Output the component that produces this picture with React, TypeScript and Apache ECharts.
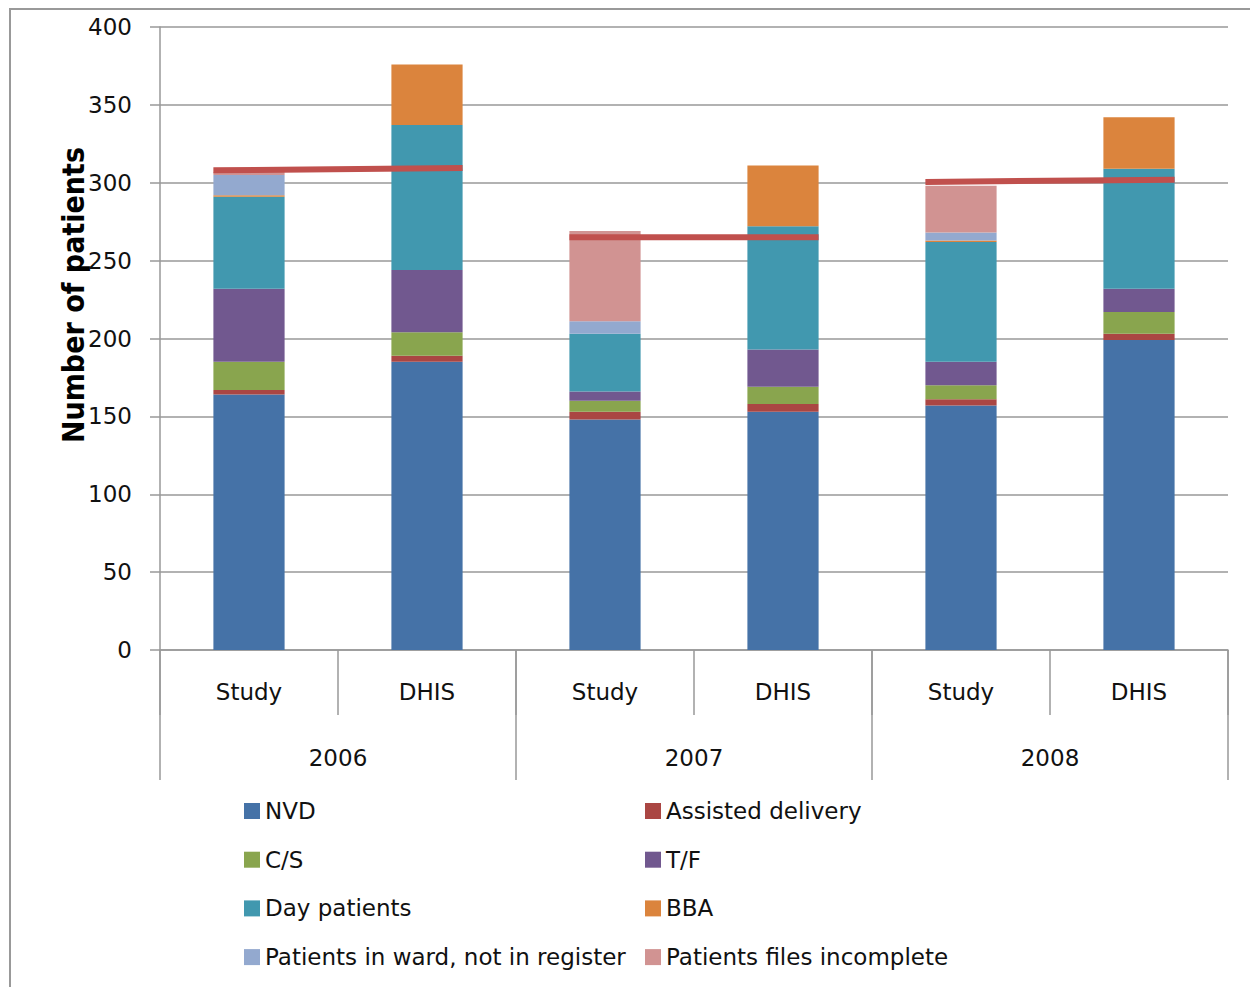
import React, { useEffect, useRef } from "react";
import * as echarts from "echarts";

const categories = ["Study", "DHIS", "Study", "DHIS", "Study", "DHIS"];
const years = ["2006", "2007", "2008"];
const yTicks = [0, 400, 50];

const nvd = [164, 185, 148, 153, 157, 199];
const assisted = [3, 4, 5, 5, 4, 4];
const cs = [18, 15, 7, 11, 9, 14];
const tf = [47, 40, 6, 24, 15, 15];
const dayPatients = [59, 93, 37, 79, 77, 77];
const bba = [1, 39, 0, 39, 1, 33];
const wardNotRegister = [13, 0, 8, 0, 5, 0];
const filesIncomplete = [2, 0, 58, 0, 30, 0];

// red reference line per year: value at Study bar's left edge and DHIS bar's right edge
const lineStart = [308, 265, 300.5];
const lineEnd = [309.5, 265, 302];

const seriesNames = [
  "NVD",
  "Assisted delivery",
  "C/S",
  "T/F",
  "Day patients",
  "BBA",
  "Patients in ward, not in register",
  "Patients files incomplete",
];
const seriesData = [nvd, assisted, cs, tf, dayPatients, bba, wardNotRegister, filesIncomplete];
const colors = ["#4572A7", "#AA4643", "#89A54E", "#71588F", "#4198AF", "#DB843D", "#93A9CF", "#D19392"];

export default function App() {
  const ref = useRef<HTMLDivElement>(null);
  useEffect(() => {
    if (!ref.current) return;
    const chart = echarts.init(ref.current, null, { renderer: "svg" });
    const font = "'DejaVu Sans', Verdana, sans-serif";
    const barFrac = 0.2;
    const bars = seriesNames.map((name, i) => ({
      name,
      type: "bar",
      stack: "total",
      barWidth: "40%",
      xAxisIndex: 0,
      itemStyle: { color: colors[i] },
      data: seriesData[i],
    }));
    const lines = years.map((y, i) => ({
      name: "line" + y,
      type: "line",
      xAxisIndex: 2,
      z: 5,
      symbol: "none",
      lineStyle: { color: "#C0504D", width: 6 },
      data: [
        [2 * i + 0.5 - barFrac, lineStart[i]],
        [2 * i + 1.5 + barFrac, lineEnd[i]],
      ],
    }));
    const legendCommon = {
      orient: "vertical",
      icon: "rect",
      padding: 0,
      itemWidth: 16,
      itemHeight: 16,
      itemGap: 22.7,
      top: 798,
      textStyle: { fontFamily: font, fontSize: 23, color: "#111", lineHeight: 26 },
      selectedMode: false,
    };
    chart.setOption({
      animation: false,
      color: colors,
      grid: { left: 160, right: 22, top: 27, bottom: 337 },
      legend: [
        { ...legendCommon, left: 244, data: [seriesNames[0], seriesNames[2], seriesNames[4], seriesNames[6]] },
        { ...legendCommon, left: 645, data: [seriesNames[1], seriesNames[3], seriesNames[5], seriesNames[7]] },
      ],
      xAxis: [
        {
          type: "category",
          data: categories,
          position: "bottom",
          offset: 0,
          axisLine: { onZero: false, lineStyle: { color: "#999", width: 1.5 } },
          axisTick: { show: true, interval: 0, length: 65, lineStyle: { color: "#999", width: 1.5 } },
          axisLabel: { interval: 0, margin: 30, fontFamily: font, fontSize: 23, color: "#111" },
        },
        {
          type: "category",
          data: years,
          position: "bottom",
          offset: 0,
          axisLine: { show: false, onZero: false },
          axisTick: { show: true, interval: 0, length: 130, lineStyle: { color: "#999", width: 1.5 } },
          axisLabel: { interval: 0, margin: 96, fontFamily: font, fontSize: 23, color: "#111" },
        },
        {
          type: "value",
          min: 0,
          max: 6,
          show: false,
        },
      ],
      yAxis: {
        type: "value",
        min: yTicks[0],
        max: yTicks[1],
        interval: yTicks[2],
        axisLine: { show: true, lineStyle: { color: "#999", width: 1.5 } },
        axisTick: { show: true, length: 10, lineStyle: { color: "#999", width: 1.5 } },
        splitLine: { lineStyle: { color: "#999", width: 1.5 } },
        axisLabel: { margin: 28, fontFamily: font, fontSize: 23, color: "#111" },
      },
      graphic: [
        {
          type: "rect",
          silent: true,
          shape: { x: 10, y: 9, width: 1400, height: 1200 },
          style: { fill: "none", stroke: "#999", lineWidth: 2 },
        },
        {
          type: "text",
          x: 73,
          y: 295,
          rotation: Math.PI / 2,
          style: {
            text: "Number of patients",
            fontFamily: "'DejaVu Sans Condensed', 'Liberation Sans Narrow', sans-serif",
            fontWeight: "bold",
            fontSize: 30,
            fill: "#000",
            align: "center",
            verticalAlign: "middle",
          },
        },
      ],
      series: [...bars, ...lines],
    });
    return () => chart.dispose();
  }, []);
  return (
    <div
      ref={ref}
      style={{ position: "fixed", left: 0, top: 0, width: 1250, height: 987, background: "#fff" }}
    />
  );
}
